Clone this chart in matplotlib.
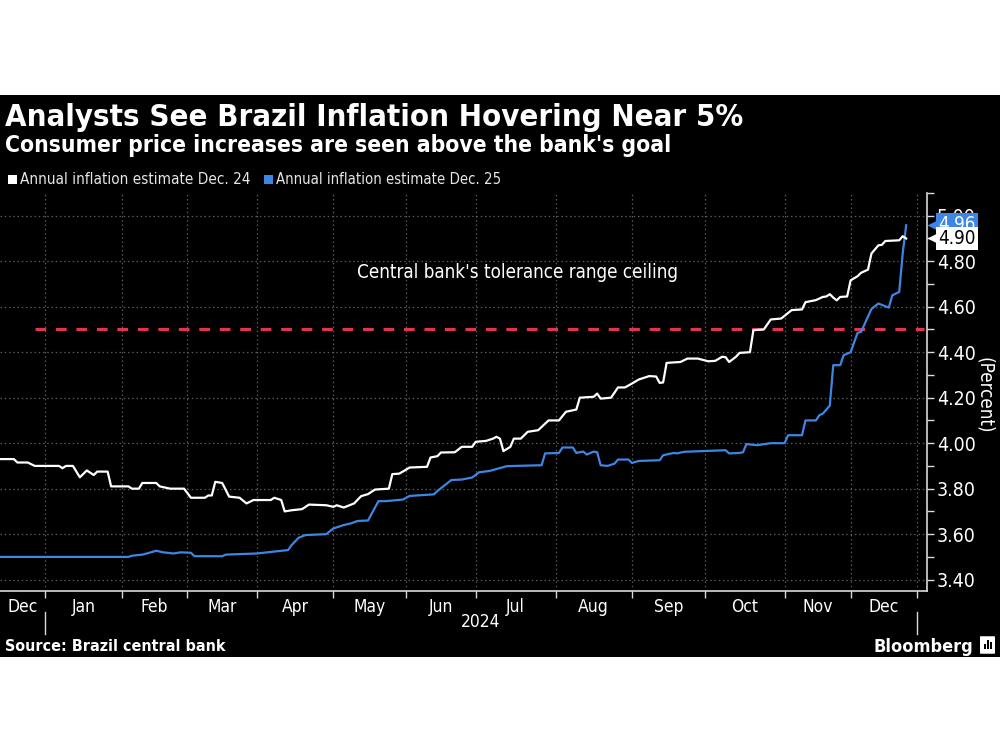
import numpy as np
import matplotlib
matplotlib.use("Agg")
import matplotlib.pyplot as plt
import matplotlib.transforms as mtransforms
from matplotlib import font_manager as fm
from matplotlib.patches import Rectangle, FancyBboxPatch
from matplotlib.ticker import FixedLocator, MultipleLocator, FormatStrFormatter, NullFormatter

# ---------------- data ----------------
title = "Analysts See Brazil Inflation Hovering Near 5%"
subtitle = "Consumer price increases are seen above the bank's goal"
series_names = ["Annual inflation estimate Dec. 24", "Annual inflation estimate Dec. 25"]
source = "Source: Brazil central bank"
ceiling_label = "Central bank's tolerance range ceiling"
ceiling_value = 4.5
unit_label = "(Percent)"
year_label = "2024"

# Brazilian market (B3) non-trading days used for the business-day axis
holidays = ['2023-12-25', '2023-12-29', '2024-01-01', '2024-02-12', '2024-02-13',
            '2024-03-29', '2024-05-01', '2024-05-30', '2024-11-15', '2024-11-20',
            '2024-12-24', '2024-12-25', '2024-12-31', '2025-01-01']

dec24_dates = [
    '2023-12-11', '2023-12-15', '2023-12-18', '2023-12-21', '2023-12-26', '2024-01-08', '2024-01-09',
    '2024-01-10', '2024-01-12', '2024-01-16', '2024-01-18', '2024-01-22', '2024-01-23', '2024-01-26',
    '2024-01-29', '2024-02-05', '2024-02-06', '2024-02-08', '2024-02-09', '2024-02-19', '2024-02-20',
    '2024-02-23', '2024-02-29', '2024-03-04', '2024-03-08', '2024-03-11', '2024-03-12', '2024-03-13',
    '2024-03-15', '2024-03-19', '2024-03-22', '2024-03-26', '2024-03-28', '2024-04-05', '2024-04-08',
    '2024-04-10', '2024-04-11', '2024-04-15', '2024-04-18', '2024-04-22', '2024-04-29', '2024-05-02',
    '2024-05-03', '2024-05-07', '2024-05-10', '2024-05-14', '2024-05-16', '2024-05-20', '2024-05-24',
    '2024-05-27', '2024-05-29', '2024-06-04', '2024-06-11', '2024-06-12', '2024-06-14', '2024-06-17',
    '2024-06-21', '2024-06-25', '2024-06-28', '2024-07-01', '2024-07-04', '2024-07-08', '2024-07-09',
    '2024-07-10', '2024-07-11', '2024-07-15', '2024-07-16', '2024-07-18', '2024-07-22', '2024-07-25',
    '2024-07-30', '2024-08-02', '2024-08-06', '2024-08-09', '2024-08-12', '2024-08-16', '2024-08-19',
    '2024-08-20', '2024-08-23', '2024-08-27', '2024-08-29', '2024-09-02', '2024-09-04', '2024-09-09',
    '2024-09-11', '2024-09-12', '2024-09-13', '2024-09-16', '2024-09-20', '2024-09-24', '2024-09-27',
    '2024-10-02', '2024-10-04', '2024-10-08', '2024-10-09', '2024-10-10', '2024-10-14', '2024-10-15',
    '2024-10-18', '2024-10-21', '2024-10-24', '2024-10-28', '2024-10-31', '2024-11-05', '2024-11-08',
    '2024-11-11', '2024-11-14', '2024-11-19', '2024-11-21', '2024-11-22', '2024-11-25', '2024-11-26',
    '2024-11-27', '2024-11-29', '2024-12-02', '2024-12-04', '2024-12-05', '2024-12-09', '2024-12-10',
    '2024-12-12', '2024-12-13', '2024-12-16', '2024-12-20', '2024-12-23', '2024-12-26']
dec24_values = [
    3.93, 3.93, 3.915, 3.915, 3.90, 3.90, 3.89,
    3.90, 3.90, 3.85, 3.88, 3.86, 3.875, 3.875,
    3.81, 3.81, 3.80, 3.80, 3.825, 3.825, 3.81,
    3.80, 3.80, 3.76, 3.76, 3.77, 3.77, 3.83,
    3.825, 3.765, 3.76, 3.735, 3.75, 3.75, 3.76,
    3.75, 3.70, 3.705, 3.71, 3.73, 3.727, 3.72,
    3.727, 3.717, 3.735, 3.767, 3.776, 3.796, 3.80,
    3.864, 3.866, 3.893, 3.896, 3.937, 3.943, 3.959,
    3.96, 3.984, 3.984, 4.006, 4.01, 4.02, 4.028,
    4.02, 3.965, 3.984, 4.02, 4.02, 4.05, 4.057,
    4.10, 4.10, 4.138, 4.148, 4.20, 4.204, 4.218,
    4.196, 4.20, 4.245, 4.245, 4.262, 4.28, 4.295,
    4.293, 4.265, 4.267, 4.353, 4.357, 4.372, 4.372,
    4.36, 4.362, 4.38, 4.378, 4.357, 4.38, 4.397,
    4.40, 4.497, 4.50, 4.544, 4.548, 4.585, 4.588,
    4.62, 4.629, 4.643, 4.645, 4.655, 4.64, 4.628,
    4.643, 4.645, 4.716, 4.734, 4.749, 4.763, 4.834,
    4.87, 4.872, 4.889, 4.892, 4.91, 4.90]

dec25_dates = [
    '2023-12-11', '2024-02-05', '2024-02-06', '2024-02-09', '2024-02-15', '2024-02-19', '2024-02-21',
    '2024-02-26', '2024-02-28', '2024-03-04', '2024-03-05', '2024-03-15', '2024-03-18', '2024-04-01',
    '2024-04-12', '2024-04-15', '2024-04-17', '2024-04-19', '2024-04-29', '2024-05-02', '2024-05-07',
    '2024-05-09', '2024-05-13', '2024-05-16', '2024-05-21', '2024-05-23', '2024-05-31', '2024-06-04',
    '2024-06-13', '2024-06-14', '2024-06-19', '2024-06-20', '2024-06-25', '2024-06-28', '2024-07-02',
    '2024-07-05', '2024-07-12', '2024-07-26', '2024-07-29', '2024-08-02', '2024-08-05', '2024-08-08',
    '2024-08-09', '2024-08-13', '2024-08-14', '2024-08-16', '2024-08-19', '2024-08-20', '2024-08-22',
    '2024-08-26', '2024-08-27', '2024-08-30', '2024-09-02', '2024-09-04', '2024-09-12', '2024-09-13',
    '2024-09-18', '2024-09-19', '2024-09-23', '2024-10-09', '2024-10-10', '2024-10-15', '2024-10-16',
    '2024-10-17', '2024-10-22', '2024-10-28', '2024-11-01', '2024-11-04', '2024-11-08', '2024-11-11',
    '2024-11-14', '2024-11-18', '2024-11-19', '2024-11-22', '2024-11-25', '2024-11-27', '2024-11-28',
    '2024-12-02', '2024-12-04', '2024-12-05', '2024-12-10', '2024-12-12', '2024-12-17', '2024-12-18',
    '2024-12-20', '2024-12-23', '2024-12-26']
dec25_values = [
    3.50, 3.50, 3.505, 3.51, 3.518, 3.527, 3.52,
    3.515, 3.52, 3.518, 3.503, 3.503, 3.51, 3.515,
    3.53, 3.552, 3.584, 3.596, 3.60, 3.625, 3.64,
    3.647, 3.658, 3.66, 3.745, 3.745, 3.752, 3.768,
    3.775, 3.79, 3.826, 3.838, 3.84, 3.849, 3.872,
    3.878, 3.899, 3.903, 3.955, 3.957, 3.981, 3.981,
    3.957, 3.963, 3.95, 3.963, 3.96, 3.903, 3.90,
    3.91, 3.928, 3.928, 3.913, 3.922, 3.925, 3.947,
    3.957, 3.955, 3.962, 3.969, 3.955, 3.957, 3.96,
    3.996, 3.991, 4.00, 4.00, 4.035, 4.035, 4.10,
    4.10, 4.123, 4.13, 4.165, 4.343, 4.343, 4.387,
    4.40, 4.485, 4.489, 4.59, 4.614, 4.596, 4.65,
    4.665, 4.834, 4.958]

dec24_last = 4.90
dec25_last = 4.96

month_starts = ['2024-01-01', '2024-02-01', '2024-03-01', '2024-04-01', '2024-05-01', '2024-06-01',
                '2024-07-01', '2024-08-01', '2024-09-01', '2024-10-01', '2024-11-01', '2024-12-01',
                '2025-01-01']
month_labels = ['Dec', 'Jan', 'Feb', 'Mar', 'Apr', 'May', 'Jun', 'Jul', 'Aug', 'Sep', 'Oct', 'Nov', 'Dec']
x_start, x_end = '2023-12-11', '2025-01-07'
y_ticks = [3.4, 3.6, 3.8, 4.0, 4.2, 4.4, 4.6, 4.8, 5.0]
y_range = (3.35, 5.10)

# ---------------- fonts ----------------
ttf = fm.fontManager.ttflist
names = {f.name for f in ttf}
has_cond = any(f.name == 'DejaVu Sans' and str(f.stretch) in ('condensed', 'semi-condensed') for f in ttf)
if has_cond:
    plt.rcParams['font.family'] = ['DejaVu Sans']
    plt.rcParams['font.stretch'] = 'condensed'
elif 'Liberation Sans Narrow' in names:
    plt.rcParams['font.family'] = ['Liberation Sans Narrow', 'DejaVu Sans']
else:
    plt.rcParams['font.family'] = ['DejaVu Sans']

# ---------------- helpers ----------------
def bpos(d):
    return np.busday_count(np.datetime64(x_start, 'D'),
                           np.array(d, dtype='datetime64[D]'), holidays=holidays)

WHITE = '#ffffff'
BLUE = '#3d86e3'
RED = '#e2344f'
GRID = '#5a5a5a'
AXC = '#d9d9d9'

fig = plt.figure(figsize=(10, 7.5), dpi=100, facecolor='white')
fig.add_artist(Rectangle((0, 1 - 657 / 750), 1, (657 - 95) / 750, transform=fig.transFigure,
                         facecolor='black', edgecolor='none', zorder=0))

ax = fig.add_axes([0.0, 1 - 591 / 750, 0.927, (591 - 193) / 750])
ax.set_facecolor('black')
ax.patch.set_alpha(0)

x24 = bpos(dec24_dates)
x25 = bpos(dec25_dates)
ax.plot(x24, dec24_values, color=WHITE, lw=1.6, zorder=4, solid_joinstyle='round')
ax.plot(x25, dec25_values, color=BLUE, lw=1.6, zorder=3, solid_joinstyle='round')
ax.axhline(ceiling_value, xmin=0.038, xmax=0.997, color=RED, lw=2.2, dashes=(3.5, 3.2), zorder=2)

ax.set_xlim(bpos(x_start), bpos(x_end))
ax.set_ylim(*y_range)

# x axis: boundaries as major ticks, labels centred in each month
mpos = bpos(month_starts)
edges = np.concatenate([[bpos(x_start)], mpos])
centers = (edges[:-1] + edges[1:]) / 2
ax.xaxis.set_major_locator(FixedLocator(mpos))
ax.xaxis.set_major_formatter(NullFormatter())
ax.xaxis.set_minor_locator(FixedLocator(centers))
ax.set_xticklabels(month_labels, minor=True)
ax.tick_params(axis='x', which='major', length=5, width=1, color=AXC, direction='out')
ax.tick_params(axis='x', which='minor', length=0, pad=5, labelsize=12.5, labelcolor='white')

# y axis on the right
ax.yaxis.tick_right()
ax.yaxis.set_major_locator(FixedLocator(y_ticks))
ax.yaxis.set_minor_locator(MultipleLocator(0.1))
ax.yaxis.set_major_formatter(FormatStrFormatter('%.2f'))
ax.tick_params(axis='y', which='major', length=5, width=1, color=AXC, pad=2,
               labelsize=14, labelcolor='white')
ax.tick_params(axis='y', which='minor', length=5, width=1, color=AXC)

for s in ['left', 'top']:
    ax.spines[s].set_visible(False)
for s in ['right', 'bottom']:
    ax.spines[s].set_color(AXC)
    ax.spines[s].set_linewidth(1.2)

ax.grid(True, which='major', color=GRID, lw=0.9, linestyle=(0, (1.2, 2.2)))
ax.set_axisbelow(True)

# year label and separators
bt = mtransforms.blended_transform_factory(ax.transData, ax.transAxes)
for xp in [mpos[0], mpos[-1]]:
    ax.plot([xp, xp], [-0.053, -0.108], color=AXC, lw=1, transform=bt, clip_on=False)
ax.text((mpos[0] + mpos[-1]) / 2, -0.078, year_label, transform=bt, ha='center', va='center',
        color='white', fontsize=12.5)

# ceiling label
ax.text(0.558, 4.75, ceiling_label, transform=mtransforms.blended_transform_factory(ax.transAxes, ax.transData),
        ha='center', va='center', color='white', fontsize=13.5)

# end-value tags
rt = mtransforms.blended_transform_factory(ax.transAxes, ax.transData)
for val, fc, tc, z in [(dec25_last, BLUE, 'white', 6), (dec24_last, WHITE, 'black', 7)]:
    ax.plot([1.006], [val], marker='<', ms=8, color=fc, mec='none', transform=rt, clip_on=False, zorder=z)
    ax.text(1.012, val, f'{val:.2f}', transform=rt, ha='left', va='center', color=tc, fontsize=13.5,
            zorder=z, bbox=dict(boxstyle='square,pad=0.12', fc=fc, ec='none'), clip_on=False)

fig.text(0.985, 1 - 395 / 750, unit_label, rotation=270, ha='center', va='center', color='white', fontsize=13.5)

# titles / legend / footer
t1 = fig.text(0.005, 1 - 126 / 750, title, ha='left', va='baseline', color='white', fontsize=22, fontweight='bold')
t2 = fig.text(0.005, 1 - 152 / 750, subtitle, ha='left', va='baseline', color='white', fontsize=15, fontweight='bold')
fig.add_artist(Rectangle((8 / 1000, 1 - 184 / 750), 9 / 1000, 9 / 750, transform=fig.transFigure,
                         facecolor=WHITE, edgecolor='none'))
fig.add_artist(Rectangle((264 / 1000, 1 - 184 / 750), 9 / 1000, 9 / 750, transform=fig.transFigure,
                         facecolor=BLUE, edgecolor='none'))
l1 = fig.text(0.020, 1 - 179.5 / 750, series_names[0], ha='left', va='center', color='#e6e6e6', fontsize=11)
l2 = fig.text(0.276, 1 - 179.5 / 750, series_names[1], ha='left', va='center', color='#e6e6e6', fontsize=11)
s1 = fig.text(0.005, 1 - 651 / 750, source, ha='left', va='baseline', color='white', fontsize=11, fontweight='bold')
b1 = fig.text(0.973, 1 - 652 / 750, 'Bloomberg', ha='right', va='baseline', color='white', fontsize=15, fontweight='bold')

# Bloomberg icon
fig.add_artist(FancyBboxPatch((981 / 1000, 1 - 653 / 750), 13 / 1000, 16 / 750, boxstyle='round,pad=0.001',
                              transform=fig.transFigure, facecolor='white', edgecolor='none'))
for i, h in enumerate([5, 9, 7]):
    fig.add_artist(Rectangle(((983.5 + i * 3.3) / 1000, 1 - 649 / 750), 2 / 1000, h / 750,
                             transform=fig.transFigure, facecolor='black', edgecolor='none'))

# fit text widths to reference extents
fig.canvas.draw()
r = fig.canvas.get_renderer()
for t, target in [(t1, 735), (t2, 667), (l1, 230), (l2, 224), (s1, 220), (b1, 100)]:
    w = t.get_window_extent(r).width
    t.set_fontsize(t.get_fontsize() * target / w)

fig.savefig('out.png', dpi=100, facecolor='white')
